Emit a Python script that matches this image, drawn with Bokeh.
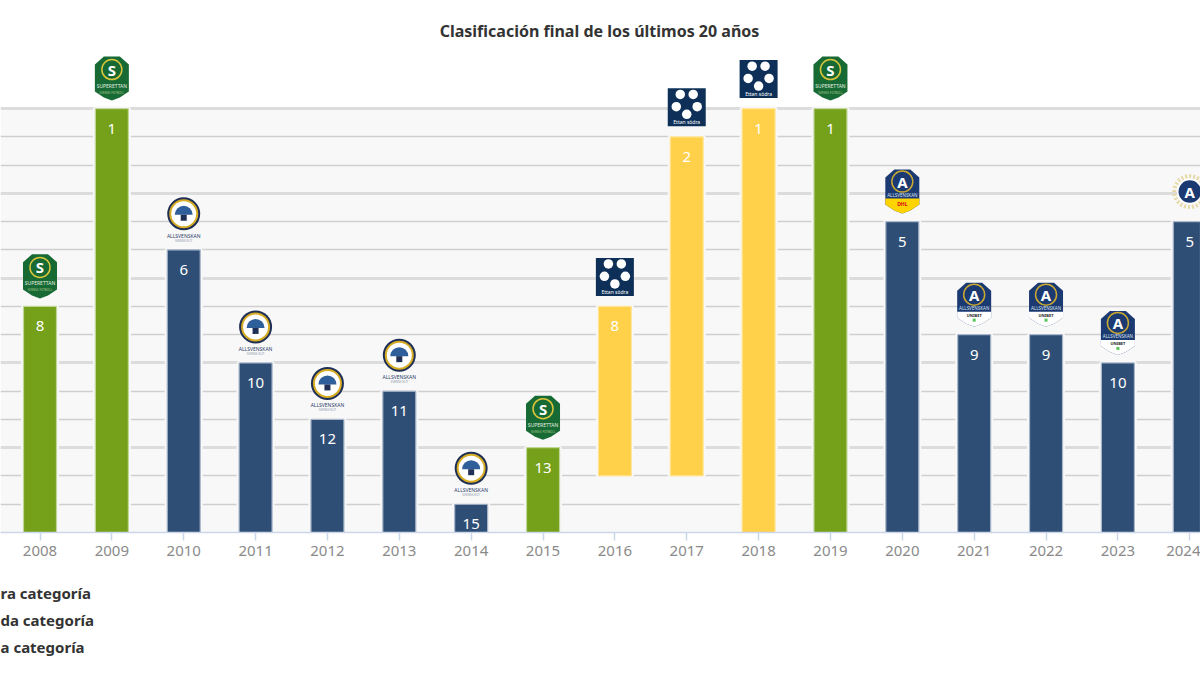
from math import pi, cos, sin
from bokeh.plotting import figure
from bokeh.models import Range1d, BoxAnnotation, FixedTicker, Label, Title
from bokeh.core.properties import value
from bokeh.embed import file_html
from bokeh.resources import INLINE

years = [2008, 2009, 2010, 2011, 2012, 2013, 2014, 2015, 2016, 2017, 2018, 2019, 2020, 2021, 2022, 2023, 2024]
positions = [8, 1, 6, 10, 12, 11, 15, 13, 8, 2, 1, 1, 5, 9, 9, 10, 5]
bar_floor = [16, 16, 16, 16, 16, 16, 16, 16, 14, 14, 16, 16, 16, 16, 16, 16, 16]
tiers = ["second", "second", "first", "first", "first", "first", "first", "second", "third", "third", "third", "second", "first", "first", "first", "first", "first"]
logos = ["super", "super", "old", "old", "old", "old", "old", "super", "ettan", "ettan", "ettan", "super", "dhl", "unibet", "unibet", "unibet", "gold"]
grid_minor = [2, 3, 5, 6, 8, 9, 11, 12, 14, 15]
grid_major = [1, 4, 7, 10, 13]
legend_names = ["ra categoría", "da categoría", "a categoría"]
title_text = "Clasificación final de los últimos 20 años"

FILL = {"first": "#2f4e75", "second": "#74a01a", "third": "#ffd14a"}
EDGE = {"first": "#a9b7ca", "second": "#c3d69a", "third": "#ffe69c"}
FONT = "Noto Sans"
XPX, YPX = 71.86, 28.25  # pixels per year / per rank

W, H = 1200, 675
p = figure(width=W, height=H, output_backend="svg", toolbar_location=None,
           x_range=Range1d(2008 - 39.5 / XPX, 2008 - 39.5 / XPX + W / XPX),
           y_range=Range1d(16, 1 - 108 / YPX),
           min_border_left=0, min_border_right=0, min_border_top=0, min_border_bottom=143,
           outline_line_color=None, background_fill_color="#ffffff", border_fill_color="#ffffff")
p.yaxis.visible = False
p.grid.visible = False

ax = p.xaxis[0]
ax.ticker = FixedTicker(ticks=years)
ax.axis_line_color = "#ccd6eb"
ax.axis_line_width = 1.5
ax.major_tick_line_color = "#ccd6eb"
ax.major_tick_line_width = 1.5
ax.major_tick_out = 8
ax.major_tick_in = 0
ax.minor_tick_line_color = None
ax.major_label_text_font = FONT
ax.major_label_text_font_size = "15px"
ax.major_label_text_color = "#8a8a8a"
ax.major_label_standoff = 5

p.add_layout(BoxAnnotation(top=1, bottom=16, fill_color="#f8f8f8", fill_alpha=1, line_color=None, level="underlay"))
p.hspan(y=grid_minor, line_color="#cfcfcf", line_width=1.5)
p.hspan(y=grid_major, line_color="#dcdcdc", line_width=3)

fills = [FILL[t] for t in tiers]
edges = [EDGE[t] for t in tiers]
bw = 33 / XPX
p.vbar(x=years, top=positions, bottom=bar_floor, width=bw, fill_color="#f8f8f8", line_color="#f8f8f8", line_width=5)
p.vbar(x=years, top=positions, bottom=bar_floor, width=bw, fill_color=fills, line_color=edges, line_width=1.2)
p.text(x=years, y=[r + 20 / YPX for r in positions], text=[str(r) for r in positions],
       text_color="#ffffff", text_font=value(FONT), text_font_size="15px",
       text_align="center", text_baseline="middle")


def X(year, dx):
    return year + dx / XPX


def Y(cy, dy):
    return cy + dy / YPX


def poly(year, cy, pts, color):
    p.patch([X(year, a) for a, _ in pts], [Y(cy, b) for _, b in pts], fill_color=color, line_color=None)


def tiny(year, cy, dy, text, color, size="5px", bold=False):
    p.text(x=[year], y=[Y(cy, dy)], text=[text], text_color=color, text_font=value(FONT), text_font_size=size,
           text_font_style="bold" if bold else "normal", text_align="center", text_baseline="middle")


def dot(year, cy, dy, size, fill, line=None, lw=1.0, marker="circle", dash="solid"):
    p.scatter(x=[year], y=[Y(cy, dy)], size=size, marker=marker, fill_color=fill, line_color=line,
              line_width=lw, line_dash=dash)


HEX = [(-8, -22), (8, -22), (17, -14), (17, 13), (8, 19), (0, 22), (-8, 19), (-17, 13), (-17, -14)]
LOW = [(-17, 7), (17, 7), (17, 13), (8, 19), (0, 22), (-8, 19), (-17, 13)]

for yr, rank, logo in zip(years, positions, logos):
    cy = rank - 30 / YPX
    if logo == "super":
        poly(yr, cy, HEX, "#176a34")
        dot(yr, cy, -9, 20, "#176a34", "#d9c53c", 1.5)
        tiny(yr, cy, -9, "S", "#ffffff", "15px", True)
        tiny(yr, cy, 7, "SUPERETTAN", "#e6f0e0", "5px")
        tiny(yr, cy, 14, "SVENSK FOTBOLL", "#a9c98c", "3px")
    elif logo == "old":
        cy2 = rank - 36 / YPX
        dot(yr, cy2, 0, 33, "#1f2f55")
        dot(yr, cy2, 0, 27, "#ffffff", "#d6ad25", 2)
        p.wedge(x=[yr], y=[Y(cy2, 1)], radius=9, radius_units="screen", start_angle=0, end_angle=pi,
                fill_color="#2f5f9a", line_color=None)
        dot(yr, cy2, 4, 6, "#1f2f55", marker="square")
        tiny(yr, cy2, 22, "ALLSVENSKAN", "#2b3c68", "5px")
        tiny(yr, cy2, 27, "SVENSK ELIT", "#8d97ad", "3px")
    elif logo == "ettan":
        cy2 = rank - 29.5 / YPX
        dot(yr, cy2, 0, 38, "#0e3058", marker="square")
        for k in range(5):
            a = -pi / 2 + pi / 5 + k * 2 * pi / 5
            p.scatter(x=[X(yr, 11 * cos(a))], y=[Y(cy2, -4 + 11 * sin(a))], size=9.5, marker="circle",
                      fill_color="#ffffff", line_color=None)
        tiny(yr, cy2, 15, "Ettan södra", "#ffffff", "5px")
    elif logo in ("dhl", "unibet"):
        poly(yr, cy, HEX, "#1c3a72")
        poly(yr, cy, LOW, "#ffd400" if logo == "dhl" else "#ffffff")
        dot(yr, cy, -10, 21, "#1c3a72", "#c9a832", 1.5)
        tiny(yr, cy, -10, "A", "#ffffff", "15px", True)
        tiny(yr, cy, 3, "ALLSVENSKAN", "#d8e2f0", "4.5px")
        if logo == "dhl":
            tiny(yr, cy, 12, "DHL", "#d40511", "5px", True)
        else:
            tiny(yr, cy, 11, "UNIBET", "#222222", "4px", True)
            dot(yr, cy, 15.5, 3, "#56c456", marker="square")
    elif logo == "gold":
        cy2 = rank - 30 / YPX
        dot(yr, cy2, 0, 31, None, "#e7d9a6", 4, dash="2 2")
        dot(yr, cy2, 0, 24, "#1c3a72", "#ffffff", 1.5)
        tiny(yr, cy2, 0, "A", "#ffffff", "15px", True)

p.add_layout(Label(x=599, y=532 - 30, x_units="screen", y_units="screen", text=title_text, text_align="center",
                   text_baseline="middle", text_font=FONT, text_font_size="16px", text_font_style="bold",
                   text_color="#333333"))

p.add_layout(Title(text=" ", align="left", standoff=4, text_font=FONT, text_font_size="10px"), "below")
for name in legend_names:
    p.add_layout(Title(text=name, align="left", offset=0, standoff=4.5, text_font=FONT, text_font_size="15px",
                       text_font_style="bold", text_color="#333333"), "below")

open("out.html", "w").write(file_html(p, INLINE))
